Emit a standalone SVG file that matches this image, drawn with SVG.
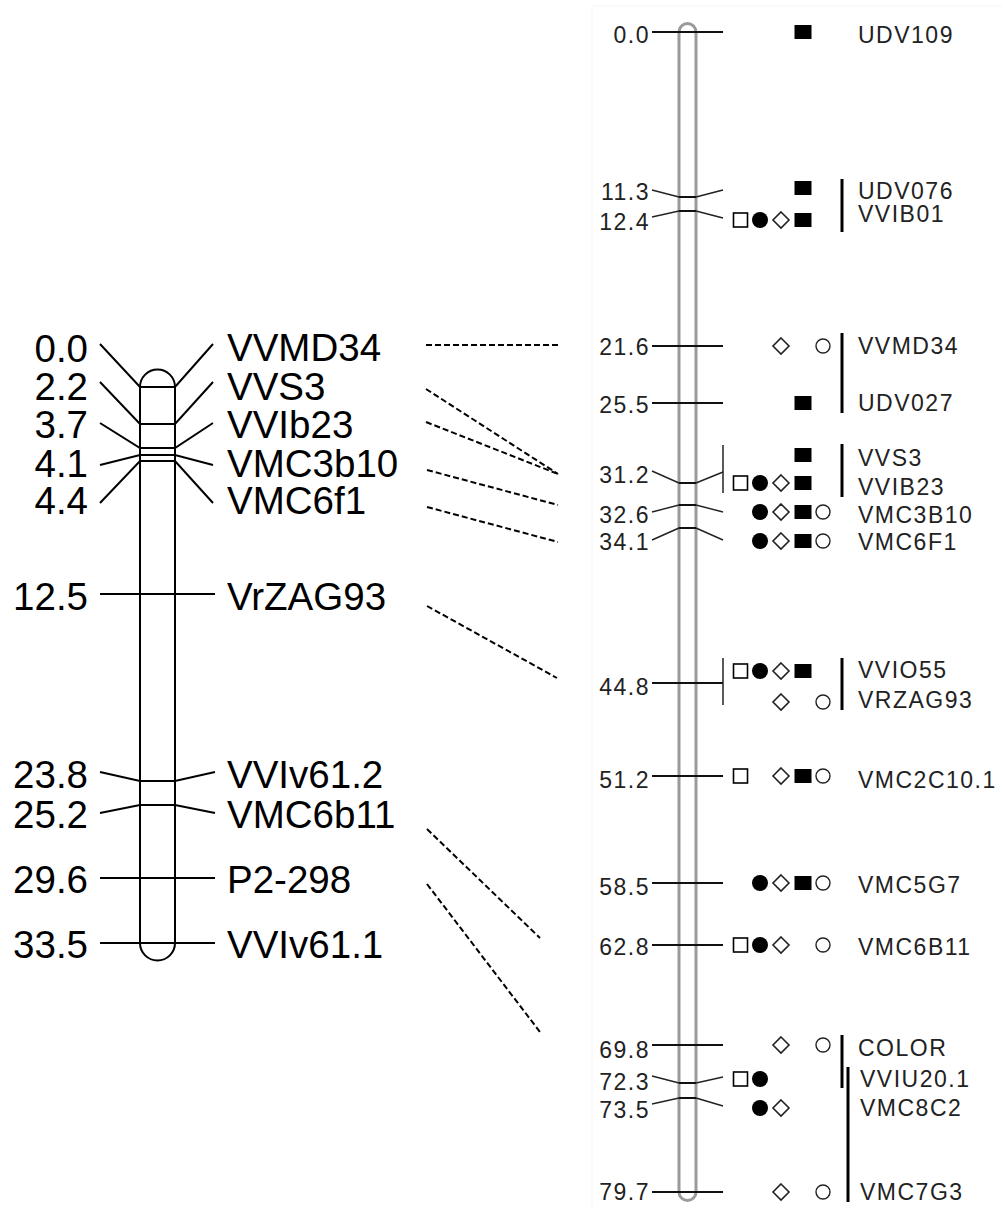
<svg xmlns="http://www.w3.org/2000/svg" xmlns:xlink="http://www.w3.org/1999/xlink" width="1002" height="1209" viewBox="0 0 1002 1209">
<style>
.lt{font-family:"Liberation Sans",Arial,sans-serif;font-size:38.5px;fill:#000}
.rt{font-family:"Liberation Sans",Arial,sans-serif;font-size:23px;fill:#222;letter-spacing:1.5px}
.num{text-anchor:end}
.ln{stroke:#000;stroke-width:2;fill:none}
.tk{stroke:#111;stroke-width:2;fill:none}
.ang{stroke:#222;stroke-width:1.4;fill:none}
.bar{stroke:#000;stroke-width:3}
.brk{stroke:#222;stroke-width:1.5}
.dash{stroke:#000;stroke-width:2;stroke-dasharray:6 3;fill:none}
</style>
<defs>
<rect id="osq" x="-7" y="-7" width="14" height="14" fill="#fff" stroke="#000" stroke-width="1.6"/>
<circle id="fci" r="8" fill="#000"/>
<polygon id="odi" points="0,-8 8,0 0,8 -8,0" fill="#fff" stroke="#222" stroke-width="1.6"/>
<rect id="fsq" x="-8.5" y="-7" width="17" height="14" fill="#000"/>
<circle id="oci" r="7" fill="#fff" stroke="#222" stroke-width="1.4"/>
</defs>
<rect width="1002" height="1209" fill="#fff"/>
<rect x="592" y="6" width="412" height="1206" fill="#fff" stroke="#f5f5f5" stroke-width="1"/>

<!-- Left chromosome -->
<g id="left-chromosome">
<path class="ln" d="M140,387 A17.5,17.5 0 0 1 175,387 L175,943 A17.5,17.5 0 0 1 140,943 Z" fill="#fff"/>
</g>
<g id="L-VVMD34"><path class="ln" d="M100,344 L140,387 L175,387 L213,344"/><text class="lt num" x="88" y="362">0.0</text><text class="lt" x="227" y="361">VVMD34</text></g>
<g id="L-VVS3"><path class="ln" d="M100,382 L140,424 L175,424 L213,382"/><text class="lt num" x="88" y="400">2.2</text><text class="lt" x="227" y="400">VVS3</text></g>
<g id="L-VVIb23"><path class="ln" d="M100,423 L140,448 L175,448 L213,423"/><text class="lt num" x="88" y="438">3.7</text><text class="lt" x="227" y="438">VVIb23</text></g>
<g id="L-VMC3b10"><path class="ln" d="M100,465 L140,455 L175,455 L213,465"/><text class="lt num" x="88" y="477">4.1</text><text class="lt" x="227" y="477">VMC3b10</text></g>
<g id="L-VMC6f1"><path class="ln" d="M100,503 L140,461 L175,461 L213,503"/><text class="lt num" x="88" y="514">4.4</text><text class="lt" x="227" y="514">VMC6f1</text></g>
<g id="L-VrZAG93"><path class="ln" d="M100,594 L215,594"/><text class="lt num" x="88" y="610">12.5</text><text class="lt" x="227" y="610">VrZAG93</text></g>
<g id="L-VVIv61.2"><path class="ln" d="M100,772 L140,781 L175,781 L215,772"/><text class="lt num" x="88" y="788">23.8</text><text class="lt" x="227" y="788">VVIv61.2</text></g>
<g id="L-VMC6b11"><path class="ln" d="M100,813 L140,805 L175,805 L215,813"/><text class="lt num" x="88" y="828">25.2</text><text class="lt" x="227" y="828">VMC6b11</text></g>
<g id="L-P2-298"><path class="ln" d="M100,878 L215,878"/><text class="lt num" x="88" y="893">29.6</text><text class="lt" x="227" y="893">P2-298</text></g>
<g id="L-VVIv61.1"><path class="ln" d="M100,943 L215,943"/><text class="lt num" x="88" y="958">33.5</text><text class="lt" x="227" y="958">VVIv61.1</text></g>

<!-- Right chromosome -->
<g id="right-chromosome">
<path d="M679,1192 L679,32 A8.5,8.5 0 0 1 696,32 L696,1192 A8.5,8.5 0 0 1 679,1192 Z" fill="#fff" stroke="#9a9a9a" stroke-width="3"/>
</g>

<g id="R-UDV109"><path class="tk" d="M652,32 L723,32"/><text class="rt num" x="650" y="43">0.0</text><use href="#fsq" x="803" y="32"/><text class="rt" x="858" y="43">UDV109</text></g>
<g id="R-UDV076"><path class="ang" d="M652,190 L679,197"/><path class="tk" d="M679,197 L696,197"/><path class="ang" d="M696,197 L723,190"/><text class="rt num" x="650" y="200">11.3</text><use href="#fsq" x="803" y="188"/><text class="rt" x="858" y="199">UDV076</text></g>
<g id="R-VVIB01"><path class="ang" d="M652,217 L679,211"/><path class="tk" d="M679,211 L696,211"/><path class="ang" d="M696,211 L723,218"/><text class="rt num" x="650" y="230">12.4</text><use href="#osq" x="740.5" y="220"/><use href="#fci" x="760" y="220"/><use href="#odi" x="781" y="220"/><use href="#fsq" x="803" y="220"/><text class="rt" x="858" y="222">VVIB01</text></g>
<line class="bar" x1="842" y1="179" x2="842" y2="232"/>

<g id="R-VVMD34"><path class="tk" d="M652,346 L723,346"/><text class="rt num" x="650" y="355">21.6</text><use href="#odi" x="781" y="346"/><use href="#oci" x="823" y="346"/><text class="rt" x="858" y="354">VVMD34</text></g>
<g id="R-UDV027"><path class="tk" d="M652,403 L723,403"/><text class="rt num" x="650" y="413">25.5</text><use href="#fsq" x="803" y="403"/><text class="rt" x="858" y="411">UDV027</text></g>
<line class="bar" x1="842" y1="333" x2="842" y2="413"/>

<g id="R-VVS3-VVIB23"><path class="ang" d="M652,471 L679,483"/><path class="tk" d="M679,483 L696,483"/><path class="ang" d="M696,483 L723,472"/><line class="brk" x1="723" y1="445" x2="723" y2="493"/><text class="rt num" x="650" y="483">31.2</text>
<use href="#fsq" x="803" y="455"/><text class="rt" x="858" y="466">VVS3</text>
<use href="#osq" x="740.5" y="483"/><use href="#fci" x="760" y="483"/><use href="#odi" x="781" y="483"/><use href="#fsq" x="803" y="483"/><text class="rt" x="858" y="495">VVIB23</text></g>
<line class="bar" x1="842" y1="444" x2="842" y2="497"/>

<g id="R-VMC3B10"><path class="ang" d="M652,512 L679,505"/><path class="tk" d="M679,505 L696,505"/><path class="ang" d="M696,505 L723,512"/><text class="rt num" x="650" y="523">32.6</text><use href="#fci" x="760" y="512"/><use href="#odi" x="781" y="512"/><use href="#fsq" x="803" y="512"/><use href="#oci" x="823" y="512"/><text class="rt" x="858" y="523">VMC3B10</text></g>
<g id="R-VMC6F1"><path class="ang" d="M652,540 L679,528"/><path class="tk" d="M679,528 L696,528"/><path class="ang" d="M696,528 L723,540"/><text class="rt num" x="650" y="550">34.1</text><use href="#fci" x="760" y="541"/><use href="#odi" x="781" y="541"/><use href="#fsq" x="803" y="541"/><use href="#oci" x="823" y="541"/><text class="rt" x="858" y="550">VMC6F1</text></g>

<g id="R-VVIO55-VRZAG93"><path class="tk" d="M652,683 L723,683"/><line class="brk" x1="723" y1="658" x2="723" y2="705"/><text class="rt num" x="650" y="695">44.8</text>
<use href="#osq" x="740.5" y="671"/><use href="#fci" x="760" y="671"/><use href="#odi" x="781" y="671"/><use href="#fsq" x="803" y="671"/><text class="rt" x="858" y="678">VVIO55</text>
<use href="#odi" x="781" y="702"/><use href="#oci" x="823" y="702"/><text class="rt" x="858" y="708">VRZAG93</text></g>
<line class="bar" x1="842" y1="658" x2="842" y2="710"/>

<g id="R-VMC2C10.1"><path class="tk" d="M652,776 L723,776"/><text class="rt num" x="650" y="788">51.2</text><use href="#osq" x="740.5" y="776"/><use href="#odi" x="781" y="776"/><use href="#fsq" x="803" y="776"/><use href="#oci" x="823" y="776"/><text class="rt" x="858" y="788">VMC2C10.1</text></g>
<g id="R-VMC5G7"><path class="tk" d="M652,883 L723,883"/><text class="rt num" x="650" y="895">58.5</text><use href="#fci" x="760" y="883"/><use href="#odi" x="781" y="883"/><use href="#fsq" x="803" y="883"/><use href="#oci" x="823" y="883"/><text class="rt" x="858" y="893">VMC5G7</text></g>
<g id="R-VMC6B11"><path class="tk" d="M652,945 L723,945"/><text class="rt num" x="650" y="955">62.8</text><use href="#osq" x="740.5" y="945"/><use href="#fci" x="760" y="945"/><use href="#odi" x="781" y="945"/><use href="#oci" x="823" y="945"/><text class="rt" x="858" y="955">VMC6B11</text></g>

<g id="R-COLOR"><path class="tk" d="M652,1045 L723,1045"/><text class="rt num" x="650" y="1058">69.8</text><use href="#odi" x="781" y="1045"/><use href="#oci" x="823" y="1045"/><text class="rt" x="858" y="1056">COLOR</text></g>
<line class="bar" x1="842" y1="1035" x2="842" y2="1088"/>
<g id="R-VVIU20.1"><path class="ang" d="M652,1076 L679,1083"/><path class="tk" d="M679,1083 L696,1083"/><path class="ang" d="M696,1083 L723,1077"/><text class="rt num" x="650" y="1090">72.3</text><use href="#osq" x="740.5" y="1079"/><use href="#fci" x="760" y="1079"/><text class="rt" x="860" y="1087">VVIU20.1</text></g>
<g id="R-VMC8C2"><path class="ang" d="M652,1104 L679,1098"/><path class="tk" d="M679,1098 L696,1098"/><path class="ang" d="M696,1098 L723,1106"/><text class="rt num" x="650" y="1118">73.5</text><use href="#fci" x="760" y="1108"/><use href="#odi" x="781" y="1108"/><text class="rt" x="860" y="1116">VMC8C2</text></g>
<g id="R-VMC7G3"><path class="tk" d="M652,1192 L723,1192"/><text class="rt num" x="650" y="1200">79.7</text><use href="#odi" x="781" y="1192"/><use href="#oci" x="823" y="1192"/><text class="rt" x="860" y="1200">VMC7G3</text></g>
<line class="bar" x1="848" y1="1067" x2="848" y2="1202"/>

<!-- Connectors -->
<g id="connectors">
<path class="dash" d="M426,345 L558,345"/>
<path class="dash" d="M426,389 L558,474"/>
<path class="dash" d="M426,422 L558,474"/>
<path class="dash" d="M427,470 L558,505"/>
<path class="dash" d="M427,507 L558,542"/>
<path class="dash" d="M427,606 L557,678"/>
<path class="dash" d="M427,829 L540,938"/>
<path class="dash" d="M427,884 L540,1032"/>
</g>
</svg>
